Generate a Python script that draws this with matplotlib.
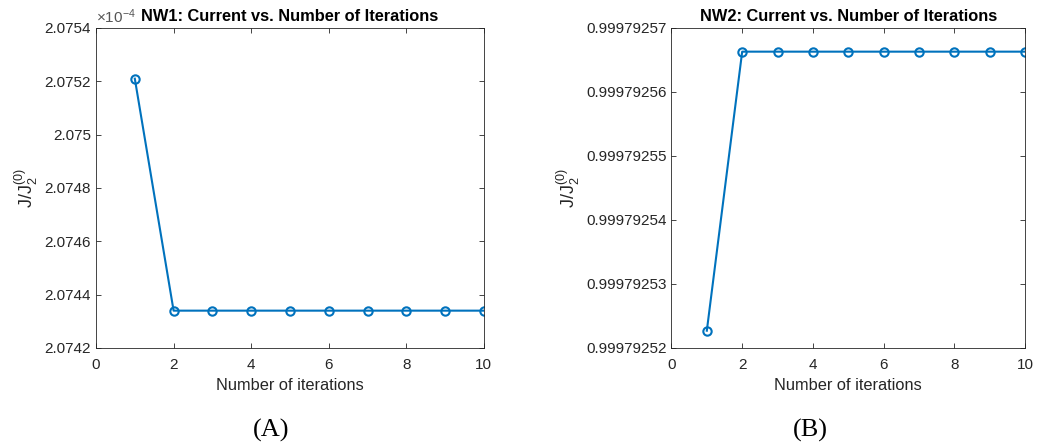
import numpy as np
import matplotlib.pyplot as plt
from matplotlib.ticker import FuncFormatter, FormatStrFormatter

# data
iters = np.arange(1, 11)
nw1_current = [2.07521e-4] + [2.07434e-4] * 9
nw2_current = [0.9997925227] + [0.9997925663] * 9

nw1_yticks = [2.0742e-4, 2.0744e-4, 2.0746e-4, 2.0748e-4, 2.0750e-4, 2.0752e-4, 2.0754e-4]
nw2_yticks = [0.99979252, 0.99979253, 0.99979254, 0.99979255, 0.99979256, 0.99979257]
xticks = [0, 2, 4, 6, 8, 10]

plt.rcParams['font.family'] = ['Liberation Sans', 'DejaVu Sans']
plt.rcParams['mathtext.fontset'] = 'custom'
plt.rcParams['mathtext.rm'] = 'Liberation Sans'
plt.rcParams['mathtext.it'] = 'Liberation Sans'

blue = '#0072BD'
grey = '#262626'

fig = plt.figure(figsize=(10.37, 4.42), dpi=100)
ax1 = fig.add_axes([0.0926, 0.2127, 0.374, 0.724])
ax2 = fig.add_axes([0.6475, 0.2127, 0.341, 0.724])

def style(ax):
    ax.tick_params(direction='in', top=True, right=True, labelsize=11,
                   colors=grey, length=3.5, width=0.6)
    ax.tick_params(axis='x', pad=7.5)
    for s in ax.spines.values():
        s.set_color(grey)
        s.set_linewidth(0.6)
    ax.set_xlim(0, 10)
    ax.set_xticks(xticks)
    ax.set_xlabel('Number of iterations', fontsize=11.8, color=grey, labelpad=4)
    ax.set_ylabel(r'J/J$_\mathrm{2}^\mathrm{(0)}$', fontsize=13, color=grey, labelpad=3)

ax1.plot(iters, nw1_current, '-o', color=blue, lw=1.5, ms=6, mfc='none', mew=1.5)
style(ax1)
ax1.set_ylim(nw1_yticks[0], nw1_yticks[-1])
ax1.set_yticks(nw1_yticks)
ax1.yaxis.set_major_formatter(FuncFormatter(lambda v, p: '%g' % (v * 1e4)))
ax1.text(0.0, 1.006, r'$\times$10$^{-4}$', transform=ax1.transAxes, ha='left',
         va='bottom', fontsize=11, color='#555555')
ax1.set_title('NW1: Current vs. Number of Iterations', fontsize=11.8, fontweight='bold', pad=5)

ax2.plot(iters, nw2_current, '-o', color=blue, lw=1.5, ms=6, mfc='none', mew=1.5)
style(ax2)
ax2.set_ylim(nw2_yticks[0], nw2_yticks[-1])
ax2.set_yticks(nw2_yticks)
ax2.yaxis.set_major_formatter(FormatStrFormatter('%.8f'))
ax2.set_title('NW2: Current vs. Number of Iterations', fontsize=11.8, fontweight='bold', pad=5)

fig.text(0.261, 0.027, '(A)', fontsize=19, family='Liberation Serif', ha='center', va='center')
fig.text(0.781, 0.027, '(B)', fontsize=19, family='Liberation Serif', ha='center', va='center')

fig.savefig('out.png', dpi=100)
